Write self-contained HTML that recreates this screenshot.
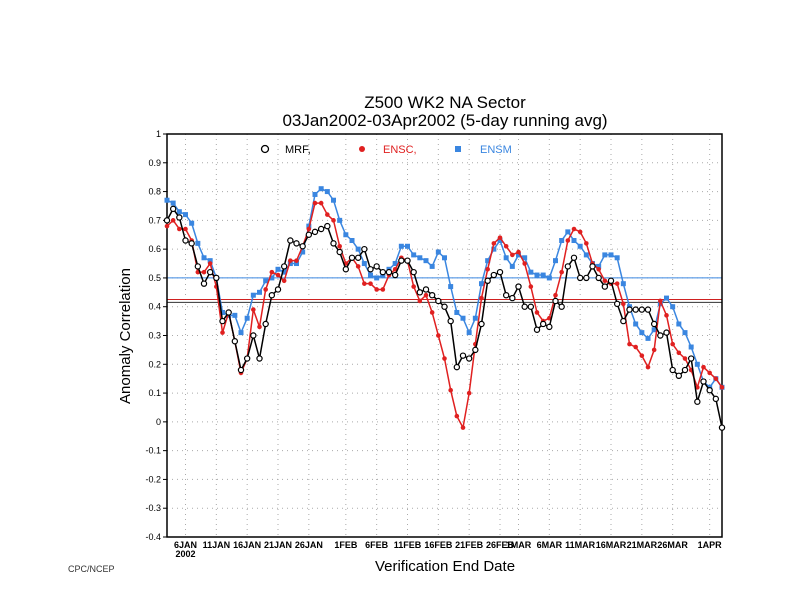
<!DOCTYPE html>
<html><head><meta charset="utf-8"><style>
body{margin:0;background:#fff}
svg{display:block;font-family:"Liberation Sans",sans-serif}
</style></head><body>
<svg id="c" width="792" height="612"></svg>
<script>
const labels=["6JAN","11JAN","16JAN","21JAN","26JAN","1FEB","6FEB","11FEB","16FEB","21FEB","26FEB","1MAR","6MAR","11MAR","16MAR","21MAR","26MAR","1APR"];
const labelIdx=[3,8,13,18,23,29,34,39,44,49,54,57,62,67,72,77,82,88];
const yTicks=[1,0.9,0.8,0.7,0.6,0.5,0.4,0.3,0.2,0.1,0,-0.1,-0.2,-0.3,-0.4];
const mrf=[0.70,0.74,0.71,0.63,0.62,0.54,0.48,0.52,0.50,0.35,0.38,0.28,0.18,0.22,0.30,0.22,0.34,0.44,0.46,0.54,0.63,0.62,0.61,0.65,0.66,0.67,0.68,0.62,0.59,0.53,0.57,0.57,0.60,0.53,0.54,0.52,0.52,0.51,0.56,0.56,0.52,0.45,0.46,0.44,
0.42,0.40,0.35,0.19,0.23,0.22,0.25,0.34,0.49,0.51,0.52,0.44,0.43,0.47,0.40,0.40,0.32,0.34,0.33,0.42,0.40,0.54,0.57,0.50,0.50,0.54,0.50,0.47,0.49,0.41,0.35,0.39,0.39,0.39,0.39,0.34,0.30,0.31,0.18,0.16,0.18,0.22,0.07,0.14,0.11,0.08,-0.02];
const ensc=[0.68,0.70,0.67,0.67,0.63,0.52,0.52,0.55,0.47,0.31,0.38,0.28,0.17,0.22,0.39,0.33,0.46,0.52,0.51,0.49,0.56,0.56,0.61,0.67,0.76,0.76,0.72,0.70,0.61,0.55,0.57,0.54,0.48,0.48,0.46,0.46,0.51,0.53,0.57,0.56,0.47,0.42,0.44,0.38,
0.30,0.22,0.11,0.02,-0.02,0.10,0.27,0.43,0.53,0.62,0.64,0.61,0.58,0.59,0.55,0.47,0.38,0.35,0.36,0.44,0.52,0.63,0.67,0.66,0.62,0.55,0.53,0.49,0.48,0.48,0.41,0.27,0.26,0.23,0.19,0.25,0.42,0.37,0.27,0.24,0.22,0.18,0.12,0.19,0.17,0.15,0.12];
const ensm=[0.77,0.76,0.73,0.72,0.69,0.62,0.57,0.56,0.50,0.38,0.37,0.37,0.31,0.36,0.44,0.45,0.49,0.50,0.53,0.52,0.55,0.55,0.59,0.68,0.79,0.81,0.80,0.77,0.70,0.65,0.63,0.60,0.55,0.51,0.50,0.51,0.53,0.55,0.61,0.61,0.58,0.57,0.56,0.54,
0.59,0.57,0.47,0.38,0.36,0.31,0.36,0.48,0.56,0.60,0.63,0.57,0.54,0.58,0.57,0.52,0.51,0.51,0.50,0.56,0.63,0.66,0.63,0.61,0.58,0.55,0.54,0.58,0.58,0.57,0.48,0.40,0.34,0.31,0.29,0.32,0.41,0.43,0.40,0.34,0.31,0.26,0.20,0.14,0.12,0.15,0.12];
const refLines=[0.5,0.425,0.415];
const NS="http://www.w3.org/2000/svg";
const svg=document.getElementById('c');
const L=167,R=722,T=134,B=537;
const xs=i=>L+i*(R-L)/(mrf.length-1);
const ys=v=>T+(1-v)*(B-T)/1.4;
function el(t,a,p){const e=document.createElementNS(NS,t);for(const k in a)e.setAttribute(k,a[k]);(p||svg).appendChild(e);return e;}
let g;
// grid
yTicks.forEach(v=>{
 g=el('line',{x1:L,x2:R,y1:ys(v),y2:ys(v),stroke:'#aaa','stroke-width':1,'stroke-dasharray':'1,4'});
 
 
 g=el('line',{x1:L-4,x2:L,y1:ys(v),y2:ys(v),stroke:'#000'});
 
 
 const t=el('text',{x:L-6,y:ys(v)+3,'font-size':9,'text-anchor':'end'});t.textContent=String(v);
 
 
});
labelIdx.forEach((i,k)=>{
 g=el('line',{x1:xs(i),x2:xs(i),y1:T,y2:B,stroke:'#aaa','stroke-width':1,'stroke-dasharray':'1,4'});
 
 
 const t=el('text',{x:xs(i),y:B+11,'font-size':9,'text-anchor':'middle','font-weight':'bold'});t.textContent=labels[k];
 
 
});
let yr=el('text',{x:xs(3),y:B+20,'font-size':9,'text-anchor':'middle','font-weight':'bold'});yr.textContent="2002";


// reference lines
const refCol=['#3a86e0','#d02020','#333'];
refLines.forEach((v,k)=>{
 g=el('line',{x1:L,x2:R,y1:ys(v),y2:ys(v),stroke:refCol[k],'stroke-width':1});
 
 
});
// frame
g=el('rect',{x:L,y:T,width:R-L,height:B-T,fill:'none',stroke:'#000','stroke-width':1.5});


function series(data,col,kind,name){
 const pl=el('polyline',{points:data.map((v,i)=>xs(i)+','+ys(v)).join(' '),fill:'none',stroke:col,'stroke-width':1.5});
 
 
 data.forEach((v,i)=>{
  let m;
  if(kind==='o')m=el('circle',{cx:xs(i),cy:ys(v),r:2.6,fill:'#fff',stroke:col,'stroke-width':1.2});
  else if(kind==='c')m=el('circle',{cx:xs(i),cy:ys(v),r:2.3,fill:col});
  else m=el('rect',{x:xs(i)-2.5,y:ys(v)-2.5,width:5,height:5,fill:col});
  
  
 });
}
series(ensm,'#3a86e0','s','ensm');
series(ensc,'#e02020','c','ensc');
series(mrf,'#000','o','mrf');
</script>
<svg style="position:absolute;left:0;top:0" width="792" height="612">
<text x="445" y="108" font-size="17" text-anchor="middle" font-family="Liberation Sans,sans-serif">Z500 WK2 NA Sector</text>
<text x="445" y="126" font-size="17" text-anchor="middle" font-family="Liberation Sans,sans-serif">03Jan2002-03Apr2002 (5-day running avg)</text>
<circle cx="265" cy="149" r="3.5" fill="#fff" stroke="#000" stroke-width="1.3"/>
<text x="285" y="153" font-size="11" font-family="Liberation Sans,sans-serif">MRF,</text>
<circle cx="362" cy="149" r="3" fill="#e02020"/>
<text x="383" y="153" font-size="11" fill="#e02020" font-family="Liberation Sans,sans-serif">ENSC,</text>
<rect x="455" y="146" width="6" height="6" fill="#3a86e0"/>
<text x="480" y="153" font-size="11" fill="#3a86e0" font-family="Liberation Sans,sans-serif">ENSM</text>
<text transform="translate(130,336) rotate(-90)" font-size="15" text-anchor="middle" font-family="Liberation Sans,sans-serif">Anomaly Correlation</text>
<text x="445" y="571" font-size="15" text-anchor="middle" font-family="Liberation Sans,sans-serif">Verification End Date</text>
<text x="68" y="572" font-size="9" font-family="Liberation Sans,sans-serif" fill="#333">CPC/NCEP</text>
</svg>
</body></html>
